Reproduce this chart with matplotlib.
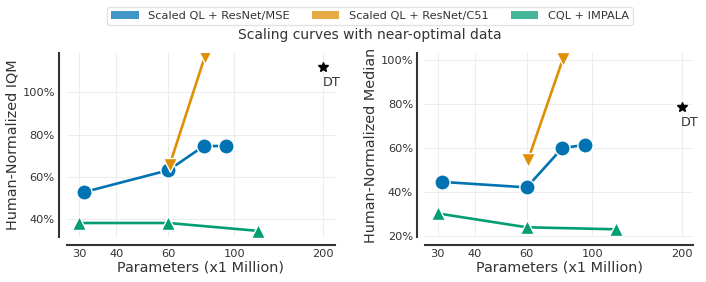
"""Scaling curves with near-optimal data: IQM and median vs parameter count."""
import matplotlib
matplotlib.use("Agg")
import matplotlib.pyplot as plt
from matplotlib.patches import Patch
from matplotlib.ticker import FixedLocator, FixedFormatter, NullLocator

BLUE = "#0173b2"
ORANGE = "#de8f05"
GREEN = "#029e73"
SPINE = "#333333"
GRID = "#ededed"

# --- data ------------------------------------------------------------------
mse_params = [31, 60, 79, 94]
mse_iqm = [52.8, 63.2, 74.6, 74.6]
mse_median = [44.5, 42.0, 59.8, 61.3]

c51_params = [60.5, 79.5]
c51_iqm = [65.5, 116.5]
c51_median = [54.2, 100.3]

cql_params = [30, 60, 120]
cql_iqm = [38.3, 38.3, 34.6]
cql_median = [30.2, 23.9, 23.0]

dt_params = 200
dt_iqm = 111.8
dt_median = 78.6

x_ticks = [30, 40, 60, 100, 200]
iqm_ticks = [40, 60, 80, 100]
median_ticks = [20, 40, 60, 80, 100]

series_names = ["Scaled QL + ResNet/MSE", "Scaled QL + ResNet/C51", "CQL + IMPALA"]

plt.rcParams.update({
    "font.family": "DejaVu Sans",
    "text.color": SPINE,
    "axes.labelcolor": SPINE,
    "xtick.color": SPINE,
    "ytick.color": SPINE,
})

fig = plt.figure(figsize=(7.06, 2.82), dpi=100)
axL = fig.add_axes([0.0945, 0.1596, 0.380, 0.652])
axR = fig.add_axes([0.602, 0.1596, 0.380, 0.652])


def draw(ax, mse, c51, cql, dt, ticks, ylim, ylabel):
    ax.plot(mse_params, mse, color=BLUE, lw=1.9, marker="o", ms=11,
            mec="white", mew=1.0, zorder=3)
    ax.plot(c51_params, c51, color=ORANGE, lw=1.9, marker="v", ms=10.5,
            mec="white", mew=1.0, zorder=4)
    ax.plot(cql_params, cql, color=GREEN, lw=1.9, marker="^", ms=10.5,
            mec="white", mew=1.0, zorder=3)
    ax.plot([dt_params], [dt], marker="*", ms=7.5, color="black", ls="none",
            zorder=5, clip_on=False)
    ax.annotate("DT", xy=(dt_params, dt), xytext=(-0.5, -6.5),
                textcoords="offset points", ha="left", va="top",
                fontsize=9.2, color=SPINE, annotation_clip=False)

    ax.set_xscale("log")
    ax.set_xlim(27.2, 219)
    ax.set_ylim(*ylim)
    ax.xaxis.set_major_locator(FixedLocator(x_ticks))
    ax.xaxis.set_major_formatter(FixedFormatter([str(t) for t in x_ticks]))
    ax.xaxis.set_minor_locator(NullLocator())
    ax.set_yticks(ticks)
    ax.set_yticklabels([f"{t}%" for t in ticks])
    ax.tick_params(length=0, labelsize=8.2, pad=3)
    ax.grid(True, color=GRID, lw=0.8)
    ax.set_axisbelow(True)

    for side in ("top", "right"):
        ax.spines[side].set_visible(False)
    for side in ("left", "bottom"):
        ax.spines[side].set_color(SPINE)
        ax.spines[side].set_linewidth(1.5)
        ax.spines[side].set_position(("outward", 5.6))

    ax.set_xlabel("Parameters (x1 Million)", fontsize=10.4, labelpad=1.0)
    ax.set_ylabel(ylabel, fontsize=10.4, labelpad=2)


draw(axL, mse_iqm, c51_iqm, cql_iqm, dt_iqm, iqm_ticks, (31.7, 118.4),
     "Human-Normalized IQM")
draw(axR, mse_median, c51_median, cql_median, dt_median, median_ticks,
     (19.5, 102.9), "Human-Normalized Median")

handles = [Patch(facecolor=c, alpha=0.75, edgecolor="none")
           for c in (BLUE, ORANGE, GREEN)]
fig.legend(handles, series_names, loc="upper center", ncol=3,
           bbox_to_anchor=(0.524, 0.995), fontsize=8.2, frameon=True,
           edgecolor="#dddddd", handlelength=2.4, columnspacing=2.0,
           borderpad=0.35)
fig.text(0.524, 0.862, "Scaling curves with near-optimal data",
         ha="center", va="baseline", fontsize=10, color=SPINE)

fig.savefig("out.png", dpi=100)
